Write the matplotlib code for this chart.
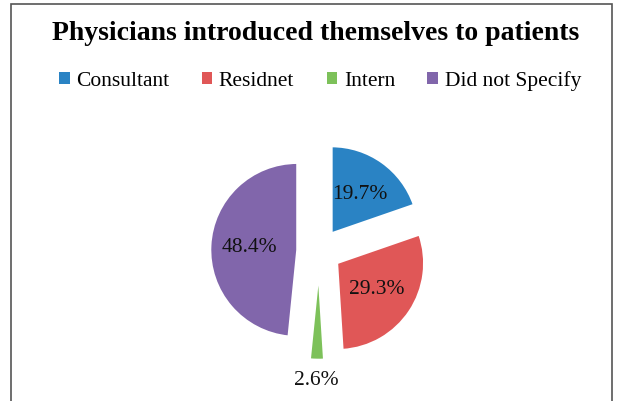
import matplotlib
matplotlib.use("Agg")
import matplotlib.pyplot as plt
from matplotlib.patches import Rectangle, Patch
import numpy as np

title = "Physicians introduced themselves to patients"
categories = ["Consultant", "Residnet", "Intern", "Did not Specify"]
values = [19.7, 29.3, 2.6, 48.4]
colors = ["#2A83C4", "#E05757", "#7DC15A", "#8166AB"]

W, H = 617, 401
fig = plt.figure(figsize=(W / 100, H / 100), dpi=100)
fig.patch.set_facecolor("white")

# outer frame
fig.patches.append(Rectangle((11 / W, -0.05), (612 - 11) / W, (H - 4) / H + 0.05,
                             transform=fig.transFigure, fill=False,
                             edgecolor="#555555", linewidth=1.2))

fig.text(316 / W, 1 - 33 / H, title, ha="center", va="center",
         fontsize=20, fontweight="bold", family="Liberation Serif")

# pie axes: center at (319, 251) px, radius 87 px
side = 300
ax = fig.add_axes([(319 - side / 2) / W, (H - 251 - side / 2) / H, side / W, side / H])
lim = side / 2 / 87
ax.set_xlim(-lim, lim)
ax.set_ylim(-lim, lim)
ax.set_aspect("equal")
ax.axis("off")

wedges, texts, autotexts = ax.pie(
    values, colors=colors, startangle=90, counterclock=False,
    explode=[0.25] * 4, autopct="%1.1f%%", pctdistance=0.55,
    wedgeprops=dict(edgecolor="white", linewidth=1.5),
    textprops=dict(fontsize=15.5, family="Liberation Serif", color="#111111"),
    radius=1.0)
ax.set_xlim(-lim, lim)
ax.set_ylim(-lim, lim)

# small slice label outside
w = wedges[2]
ang = np.deg2rad((w.theta1 + w.theta2) / 2)
cx, cy = w.center
autotexts[2].set_position((cx + 1.24 * np.cos(ang), cy + 1.24 * np.sin(ang)))

handles = [Patch(facecolor=c, edgecolor="none") for c in colors]
fig.legend(handles, categories, loc="center", bbox_to_anchor=(320 / W, 1 - 81 / H),
           ncol=4, frameon=False, handlelength=0.5, handleheight=0.5,
           handletextpad=0.3, columnspacing=1.5,
           prop=dict(family="Liberation Serif", size=15.5))

fig.savefig("out.png", dpi=100)
